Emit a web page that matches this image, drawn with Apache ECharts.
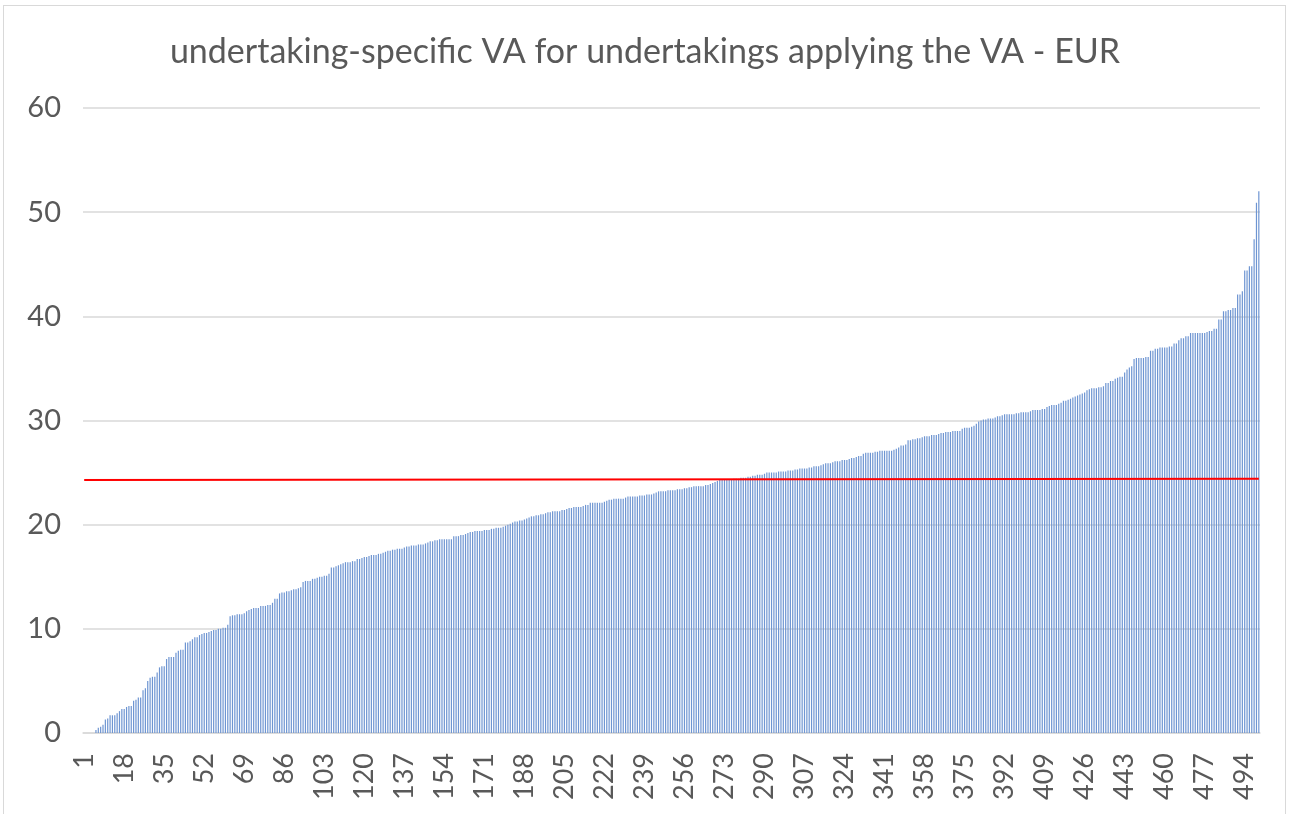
<!DOCTYPE html>
<html>
<head>
<meta charset="utf-8">
<script src="https://cdn.jsdelivr.net/npm/echarts@6/dist/echarts.min.js"></script>
<style>
    html, body {
        margin: 0;
        padding: 0;
        background: #fff;
    }
    #frame {
        position: absolute;
        left: 3px;
        top: 5px;
        width: 1283px;
        height: 830px;
        border: 1px solid #d9d9d9;
        box-sizing: border-box;
    }
    #chart {
        position: absolute;
        left: 0;
        top: 0;
        width: 1290px;
        height: 814px;
    }
</style>
</head>
<body>
<div id="frame"></div>
<div id="chart"></div>
<script>
// VA per undertaking, sorted ascending
const vaValues = [
    0, 0, 0, 0, 0, 0.3, 0.5, 0.6, 0.8, 1.3,
    1.4, 1.7, 1.7, 1.7, 1.9, 2.1, 2.3, 2.3, 2.5, 2.6,
    2.6, 3.1, 3.2, 3.4, 3.4, 4.1, 4.3, 5.0, 5.3, 5.4,
    5.4, 5.8, 6.3, 6.4, 6.4, 7.1, 7.3, 7.3, 7.3, 7.7,
    7.9, 8.0, 8.0, 8.7, 8.7, 8.8, 9.0, 9.2, 9.2, 9.4,
    9.5, 9.6, 9.6, 9.7, 9.8, 9.9, 9.9, 10.0, 10.0, 10.1,
    10.1, 10.4, 11.2, 11.3, 11.3, 11.4, 11.4, 11.4, 11.5, 11.7,
    11.8, 11.9, 12.0, 12.0, 12.0, 12.2, 12.2, 12.2, 12.3, 12.3,
    12.5, 12.9, 12.9, 13.4, 13.5, 13.5, 13.6, 13.6, 13.7, 13.8,
    13.8, 13.9, 14.0, 14.5, 14.6, 14.6, 14.6, 14.8, 14.8, 14.9,
    15.0, 15.0, 15.1, 15.1, 15.3, 15.9, 15.9, 16.0, 16.1, 16.2,
    16.3, 16.4, 16.4, 16.4, 16.5, 16.5, 16.7, 16.7, 16.8, 16.9,
    16.9, 17.0, 17.1, 17.1, 17.1, 17.2, 17.2, 17.3, 17.4, 17.5,
    17.5, 17.6, 17.6, 17.7, 17.7, 17.7, 17.8, 17.9, 17.9, 18.0,
    18.0, 18.0, 18.1, 18.1, 18.1, 18.2, 18.3, 18.4, 18.4, 18.5,
    18.5, 18.6, 18.6, 18.6, 18.6, 18.6, 18.6, 18.9, 18.9, 18.9,
    19.0, 19.0, 19.1, 19.2, 19.3, 19.3, 19.4, 19.4, 19.4, 19.4,
    19.5, 19.5, 19.5, 19.6, 19.6, 19.7, 19.7, 19.7, 19.8, 19.9,
    20.0, 20.1, 20.2, 20.3, 20.3, 20.4, 20.4, 20.5, 20.6, 20.7,
    20.8, 20.8, 20.9, 20.9, 21.0, 21.0, 21.1, 21.2, 21.2, 21.3,
    21.3, 21.3, 21.3, 21.4, 21.4, 21.5, 21.6, 21.6, 21.7, 21.7,
    21.7, 21.7, 21.8, 21.9, 21.9, 22.1, 22.1, 22.1, 22.1, 22.1,
    22.1, 22.2, 22.3, 22.4, 22.4, 22.5, 22.5, 22.5, 22.5, 22.5,
    22.6, 22.7, 22.7, 22.7, 22.7, 22.7, 22.8, 22.8, 22.8, 22.9,
    22.9, 22.9, 23.0, 23.1, 23.2, 23.2, 23.2, 23.2, 23.3, 23.3,
    23.3, 23.3, 23.4, 23.4, 23.4, 23.5, 23.5, 23.6, 23.6, 23.7,
    23.7, 23.7, 23.7, 23.7, 23.8, 23.8, 23.9, 24.0, 24.1, 24.2,
    24.3, 24.3, 24.3, 24.3, 24.3, 24.3, 24.4, 24.4, 24.4, 24.5,
    24.5, 24.5, 24.6, 24.6, 24.7, 24.7, 24.8, 24.8, 24.8, 24.9,
    25.0, 25.0, 25.0, 25.0, 25.0, 25.1, 25.1, 25.1, 25.1, 25.2,
    25.2, 25.2, 25.3, 25.3, 25.4, 25.4, 25.4, 25.4, 25.5, 25.5,
    25.6, 25.6, 25.6, 25.7, 25.8, 25.9, 25.9, 25.9, 26.0, 26.1,
    26.1, 26.1, 26.2, 26.2, 26.2, 26.3, 26.4, 26.4, 26.5, 26.6,
    26.6, 26.8, 26.9, 26.9, 26.9, 26.9, 27.0, 27.0, 27.1, 27.1,
    27.1, 27.1, 27.1, 27.1, 27.2, 27.3, 27.4, 27.6, 27.6, 27.7,
    28.1, 28.1, 28.2, 28.2, 28.3, 28.3, 28.4, 28.5, 28.5, 28.5,
    28.6, 28.6, 28.6, 28.7, 28.8, 28.8, 28.9, 28.9, 28.9, 29.0,
    29.0, 29.0, 29.0, 29.2, 29.3, 29.3, 29.3, 29.4, 29.5, 29.7,
    29.9, 30.0, 30.1, 30.1, 30.2, 30.2, 30.2, 30.3, 30.4, 30.4,
    30.5, 30.6, 30.6, 30.6, 30.6, 30.6, 30.7, 30.7, 30.8, 30.8,
    30.8, 30.8, 30.9, 31.0, 31.0, 31.0, 31.0, 31.1, 31.1, 31.3,
    31.4, 31.5, 31.5, 31.5, 31.6, 31.7, 31.9, 31.9, 32.0, 32.1,
    32.2, 32.3, 32.4, 32.5, 32.6, 32.7, 32.9, 33.0, 33.1, 33.1,
    33.1, 33.2, 33.2, 33.3, 33.6, 33.6, 33.8, 33.8, 34.0, 34.1,
    34.2, 34.2, 34.6, 34.9, 35.1, 35.2, 35.9, 36.0, 36.0, 36.0,
    36.0, 36.1, 36.1, 36.7, 36.7, 36.9, 36.9, 37.0, 37.0, 37.0,
    37.0, 37.1, 37.1, 37.4, 37.4, 37.7, 37.9, 37.9, 38.1, 38.1,
    38.4, 38.4, 38.4, 38.4, 38.4, 38.4, 38.4, 38.5, 38.6, 38.6,
    38.8, 38.8, 39.7, 39.7, 40.5, 40.5, 40.6, 40.6, 40.8, 40.8,
    42.1, 42.1, 42.4, 44.4, 44.4, 44.8, 44.8, 47.4, 50.9, 52.0,
];

// undertaking numbers 1..n
const categories = vaValues.map((v, i) => String(i + 1));

// red reference line (start / end value)
const avgLine = [24.28, 24.42];

const yMin = 0;
const yMax = 60;
const yStep = 10;

const chart = echarts.init(document.getElementById('chart'));

const option = {
    animation: false,
    textStyle: {
        fontFamily: 'Lato',
    },
    title: {
        text: 'undertaking-specific VA for undertakings applying the VA - EUR',
        left: 'center',
        top: 30,
        textStyle: {
            fontFamily: 'Lato',
            fontSize: 34,
            fontWeight: 'normal',
            color: '#595959',
        },
    },
    grid: {
        left: 83,
        right: 30,
        top: 108,
        bottom: 81,
    },
    xAxis: {
        type: 'category',
        data: categories,
        axisLine: {
            lineStyle: { color: '#d9d9d9', width: 1.5 },
        },
        axisTick: { show: false },
        axisLabel: {
            interval: 16,
            rotate: 90,
            margin: 20,
            fontSize: 27,
            color: '#595959',
        },
    },
    yAxis: {
        type: 'value',
        min: yMin,
        max: yMax,
        interval: yStep,
        axisLine: { show: false },
        axisTick: { show: false },
        axisLabel: {
            margin: 22,
            fontSize: 29,
            color: '#595959',
        },
        splitLine: {
            lineStyle: { color: '#d9d9d9', width: 1.5 },
        },
    },
    series: [
        {
            name: 'VA',
            type: 'bar',
            data: vaValues,
            barWidth: 1.2,
            itemStyle: {
                color: '#6e95d2',
            },
            markLine: {
                silent: true,
                symbol: 'none',
                label: { show: false },
                lineStyle: {
                    color: '#ff0000',
                    width: 2,
                    type: 'solid',
                },
                data: [
                    [
                        { coord: [0, avgLine[0]] },
                        { coord: [categories.length - 1, avgLine[1]] },
                    ],
                ],
            },
        },
    ],
};

chart.setOption(option);
</script>
</body>
</html>
